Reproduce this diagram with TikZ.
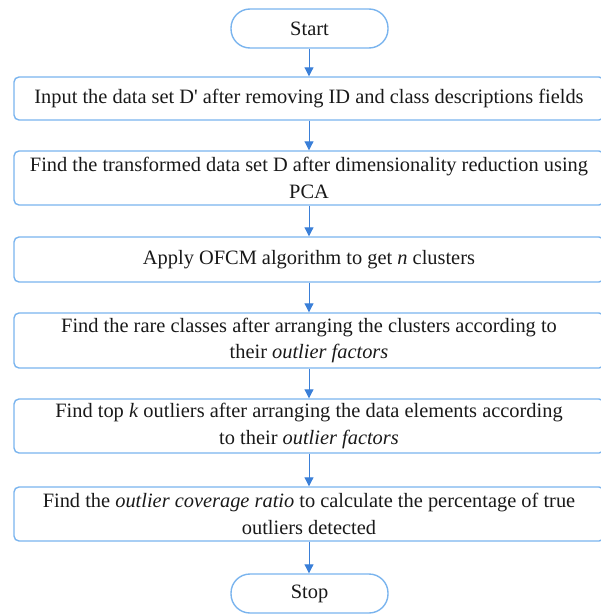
\documentclass[tikz,border=0pt]{standalone}
\usepackage{fontspec}
\setmainfont{Liberation Serif}[Ligatures=TeXOff]
\usetikzlibrary{arrows.meta}
\definecolor{boxblue}{HTML}{7AB4EE}
\definecolor{arrblue}{HTML}{3A7FD8}
\tikzset{
  procbox/.style={draw=boxblue, line width=1.4pt, rounded corners=5pt, minimum width=590pt, inner sep=0pt, align=center, font=\fontsize{20.4}{26.5}\selectfont, text=black!90},
  termbox/.style={draw=boxblue, line width=1.4pt, rounded corners=19pt, minimum width=157pt, minimum height=39pt, inner sep=0pt, font=\fontsize{20.4}{24}\selectfont, text=black!90},
  flowarrow/.style={draw=arrblue, line width=1pt, -{Triangle[length=9pt,width=9pt]}}
}
\begin{document}
\begin{tikzpicture}[x=1pt,y=-1pt]
\useasboundingbox (0,0) rectangle (601,615);
\clip (0,0) rectangle (601,615);
\node[termbox] (start) at (309.5,28.5) {Start};
\node[procbox, minimum height=43pt] (b1) at (309,98.5) {Input the data set D' after removing ID and class descriptions fields};
\node[procbox, minimum height=54pt] (b2) at (309,178) {Find the transformed data set D after dimensionality reduction using\\PCA};
\node[procbox, minimum height=45pt] (b3) at (309,259.5) {Apply OFCM algorithm to get \textit{n} clusters};
\node[procbox, minimum height=55pt] (b4) at (309,340.5) {Find the rare classes after arranging the clusters according to\\their \textit{outlier factors}};
\node[procbox, minimum height=54pt] (b5) at (309,426) {Find top \textit{k} outliers after arranging the data elements according\\to their \textit{outlier factors}};
\node[procbox, minimum height=54pt] (b6) at (309,514) {Find the \textit{outlier coverage ratio} to calculate the percentage of true\\outliers detected};
\node[termbox] (stop) at (309.5,593.5) {Stop};
\draw[flowarrow] (start.south -| b1.north) -- (b1.north);
\draw[flowarrow] (b1) -- (b2);
\draw[flowarrow] (b2) -- (b3);
\draw[flowarrow] (b3) -- (b4);
\draw[flowarrow] (b4) -- (b5);
\draw[flowarrow] (b5) -- (b6);
\draw[flowarrow] (b6.south) -- (b6.south |- stop.north);
\end{tikzpicture}
\end{document}
